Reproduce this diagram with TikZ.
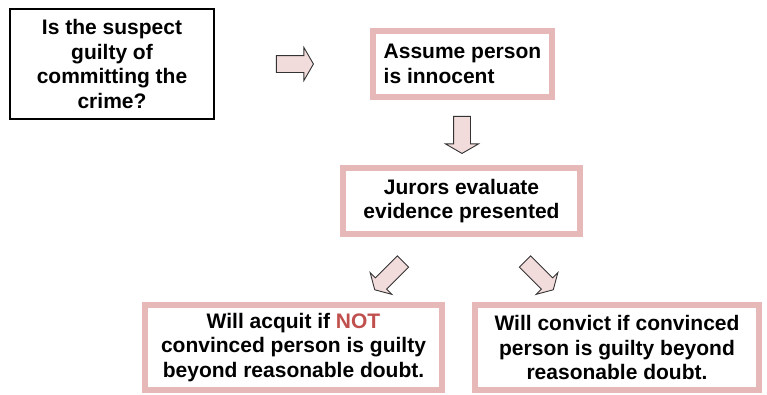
\documentclass[tikz,border=0pt]{standalone}
\usepackage{fontspec}
\setmainfont{Liberation Sans}
\usetikzlibrary{shapes.arrows,calc}
\definecolor{boxpink}{HTML}{E6B9B8}
\definecolor{arrowpink}{HTML}{F2DCDB}
\definecolor{notred}{HTML}{C0504D}
\newcommand{\hnot}[0]{\textcolor{notred}{NOT}}

\begin{document}
\begin{tikzpicture}[x=1pt,y=-1pt]
\tikzstyle{every node}=[font=\fontsize{21}{24.5}\selectfont\bfseries,inner sep=0pt]
\tikzstyle{blackbox}=[draw=black,line width=2pt,align=center]
\tikzstyle{pinkbox}=[draw=boxpink,line width=6pt,align=center]
\tikzstyle{blockarrow}=[single arrow,draw=black!80,line width=0.9pt,fill=arrowpink,
  inner ysep=8pt,inner xsep=0pt,single arrow head extend=8pt,single arrow tip angle=120,
  minimum height=37pt]
\tikzstyle{slantarrow}=[blockarrow,inner ysep=7.5pt,single arrow head extend=7.5pt,minimum height=40pt]
\useasboundingbox (0,0) rectangle (767,394);
%\fill[white] (0,0) rectangle (767,394);
\node[blackbox,minimum width=204pt,minimum height=110pt] (question) at (112,64)
  {Is the suspect\\guilty of\\committing the\\crime?};
\node[pinkbox,align=left,minimum width=179pt,minimum height=66pt] (assume) at (462.5,64)
  {Assume person\\is innocent};
\node[pinkbox,minimum width=237pt,minimum height=66pt] (evaluate) at (461.5,201)
  {Jurors evaluate\\evidence presented};
\node[pinkbox,minimum width=297pt,minimum height=85pt] (acquit) at (293.5,347.5)
  {Will acquit if \hnot\\convinced person is guilty\\beyond reasonable doubt.};
\node[pinkbox,minimum width=284pt,minimum height=85pt] (convict) at (617,347.5)
  {Will convict if convinced\\person is guilty beyond\\reasonable doubt.};

% block arrows between the boxes
\node[blockarrow] (toassume) at ($(question.east)!0.5!(assume.west)$) {};
\node[blockarrow,rotate=-90] (toevaluate) at ($(assume.south)!0.5!(evaluate.north)$) {};
\node[slantarrow,rotate=225] (toacquit) at (390.5,274) {};
\node[slantarrow,rotate=-45] (toconvict) at (537.5,274) {};
\end{tikzpicture}
\end{document}
